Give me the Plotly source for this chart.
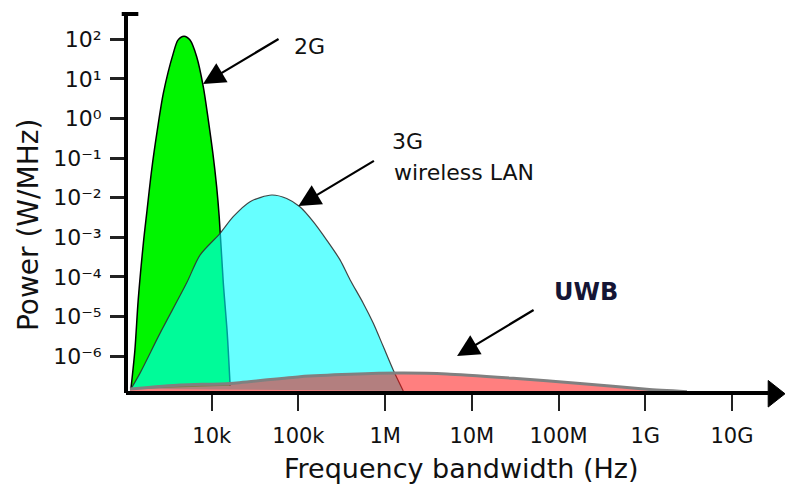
import plotly.graph_objects as go

# Spectral outlines: frequency bandwidth (Hz) vs power density (W/MHz)
g2_freq = [1.17e3, 1.30e3, 1.42e3, 1.63e3, 1.78e3, 2.03e3, 2.36e3, 2.77e3, 3.61e3, 4.08e3,
           4.80e3, 5.62e3, 6.71e3, 8.00e3, 9.14e3, 1.03e4, 1.14e4, 1.22e4, 1.36e4, 1.51e4, 1.63e4]
g2_power = [1.48e-7, 1.41e-6, 2.63e-5, 7.24e-4, 4.07e-3, 5.01e-2, 0.513, 4.37, 44.7, 95.5,
            120, 95.5, 36.3, 6.31, 0.912, 0.135, 1.91e-2, 3.31e-3, 7.08e-5, 3.80e-6, 1.78e-7]

g3_freq = [1.17e3, 1.49e3, 2.54e3, 5.15e3, 7.33e3, 1.25e4, 1.77e4, 2.77e4, 4.92e4, 7.33e4,
           1.04e5, 1.49e5, 2.12e5, 3.02e5, 3.94e5, 5.61e5, 7.31e5, 9.53e5, 1.24e6, 1.62e6]
g3_power = [1.48e-7, 3.72e-7, 3.80e-6, 7.08e-5, 3.55e-4, 1.26e-3, 3.31e-3, 7.94e-3, 1.17e-2, 9.55e-3,
            5.89e-3, 2.45e-3, 8.51e-4, 2.69e-4, 8.51e-5, 2.14e-5, 6.76e-6, 1.74e-6, 4.47e-7, 1.32e-7]

uwb_freq = [1.14e3, 4.31e3, 1.63e4, 1.04e5, 3.94e5, 1.49e6, 5.14e6, 3.01e7, 1.77e8, 1.04e9, 3.03e9]
uwb_power = [1.48e-7, 1.86e-7, 2.04e-7, 3.02e-7, 3.47e-7, 3.72e-7, 3.55e-7, 2.75e-7, 2.04e-7, 1.45e-7, 1.26e-7]
uwb_floor = 1.26e-7

x_tick_vals = [1e4, 1e5, 1e6, 1e7, 1e8, 1e9, 1e10]
x_tick_text = ["10k", "100k", "1M", "10M", "100M", "1G", "10G"]
y_tick_vals = [1e2, 1e1, 1e0, 1e-1, 1e-2, 1e-3, 1e-4, 1e-5, 1e-6]
y_tick_text = ["10²", "10¹", "10⁰", "10⁻¹", "10⁻²", "10⁻³", "10⁻⁴", "10⁻⁵", "10⁻⁶"]

FONT = "DejaVu Sans"
INK = "#111111"

fig = go.Figure()

# 2G band: opaque green with black outline
fig.add_trace(go.Scatter(
    x=g2_freq, y=g2_power, mode="lines", fill="toself",
    fillcolor="#00F500", line=dict(color="#000000", width=1.5, shape="spline", smoothing=0.8),
    hoverinfo="skip", showlegend=False))

# 3G / wireless LAN band: translucent cyan over the green
fig.add_trace(go.Scatter(
    x=g3_freq, y=g3_power, mode="lines", fill="toself",
    fillcolor="rgba(0,255,255,0.6)",
    line=dict(color="rgba(50,50,50,0.9)", width=1.2, shape="spline", smoothing=0.8),
    hoverinfo="skip", showlegend=False))

# UWB band: translucent red down to the axis, grey upper edge
fig.add_trace(go.Scatter(
    x=uwb_freq + [uwb_freq[0]], y=uwb_power + [uwb_floor], mode="lines", fill="toself",
    fillcolor="rgba(255,0,0,0.5)", line=dict(width=0),
    hoverinfo="skip", showlegend=False))
fig.add_trace(go.Scatter(
    x=uwb_freq, y=uwb_power, mode="lines",
    line=dict(color="#808080", width=3, shape="spline", smoothing=0.6),
    hoverinfo="skip", showlegend=False))

# Axis lines, top cap and arrowhead
shapes = [
    dict(type="line", xref="paper", yref="paper", x0=0, y0=0, x1=0.975, y1=0,
         line=dict(color="#000000", width=4)),
    dict(type="line", xref="paper", yref="paper", x0=0, y0=0, x1=0, y1=1,
         line=dict(color="#000000", width=4)),
    dict(type="line", xref="paper", yref="paper", x0=-0.0065, y0=1, x1=0.0187, y1=1,
         line=dict(color="#000000", width=4)),
    dict(type="path", xref="paper", yref="paper",
         path="M 0.9745,0.033 L 1,-0.002 L 0.9745,-0.037 Z",
         fillcolor="#000000", line=dict(color="#000000", width=1)),
]

arrow_style = dict(showarrow=True, arrowhead=2, arrowsize=2.0, arrowwidth=2.2,
                   arrowcolor="#000000", text="", xref="x", yref="y")

annotations = [
    # arrows (tips in log10 data units)
    dict(x=3.90, y=0.87, ax=77, ay=-46, **arrow_style),
    dict(x=5.00, y=-2.21, ax=77, ay=-46, **arrow_style),
    dict(x=6.83, y=-6.00, ax=78, ay=-47, **arrow_style),
    # labels
    dict(x=0.2514, y=0.9137, xref="paper", yref="paper", text="2G", showarrow=False,
         xanchor="left", yanchor="middle", font=dict(family=FONT, size=22, color=INK)),
    dict(x=0.4006, y=0.6649, xref="paper", yref="paper", text="3G", showarrow=False,
         xanchor="left", yanchor="middle", font=dict(family=FONT, size=22, color=INK)),
    dict(x=0.4032, y=0.5805, xref="paper", yref="paper", text="wireless LAN", showarrow=False,
         xanchor="left", yanchor="middle", font=dict(family=FONT, size=22, color=INK)),
    dict(x=0.646, y=0.2652, xref="paper", yref="paper", text="<b>UWB</b>", showarrow=False,
         xanchor="left", yanchor="middle", font=dict(family=FONT, size=24, color="#151535")),
    # axis titles
    dict(x=0.5096, y=-0.2005, xref="paper", yref="paper", text="Frequency bandwidth (Hz)",
         showarrow=False, xanchor="center", yanchor="middle",
         font=dict(family=FONT, size=27, color=INK)),
    dict(x=-0.1487, y=0.443, xref="paper", yref="paper", text="Power (W/MHz)",
         showarrow=False, xanchor="center", yanchor="middle", textangle=-90,
         font=dict(family=FONT, size=28, color=INK)),
]

fig.update_layout(
    width=785, height=489,
    margin=dict(l=126, r=0, t=14, b=96),
    paper_bgcolor="white", plot_bgcolor="white",
    showlegend=False, hovermode=False,
    shapes=shapes, annotations=annotations,
    xaxis=dict(type="log", range=[3.0115, 10.612], showgrid=False, zeroline=False,
               showline=False, tickmode="array", tickvals=x_tick_vals, ticktext=x_tick_text,
               ticks="outside", ticklen=17, tickwidth=2, tickcolor="#222222",
               ticklabelstandoff=7,
               tickfont=dict(family=FONT, size=21, color=INK), automargin=False),
    yaxis=dict(type="log", range=[-6.932, 2.639], showgrid=False, zeroline=False,
               showline=False, tickmode="array", tickvals=y_tick_vals, ticktext=y_tick_text,
               ticks="outside", ticklen=15, tickwidth=3, tickcolor="#222222",
               ticklabelstandoff=4,
               tickfont=dict(family=FONT, size=22, color=INK), automargin=False),
)

fig.write_html("out.html", config={"displayModeBar": False})
